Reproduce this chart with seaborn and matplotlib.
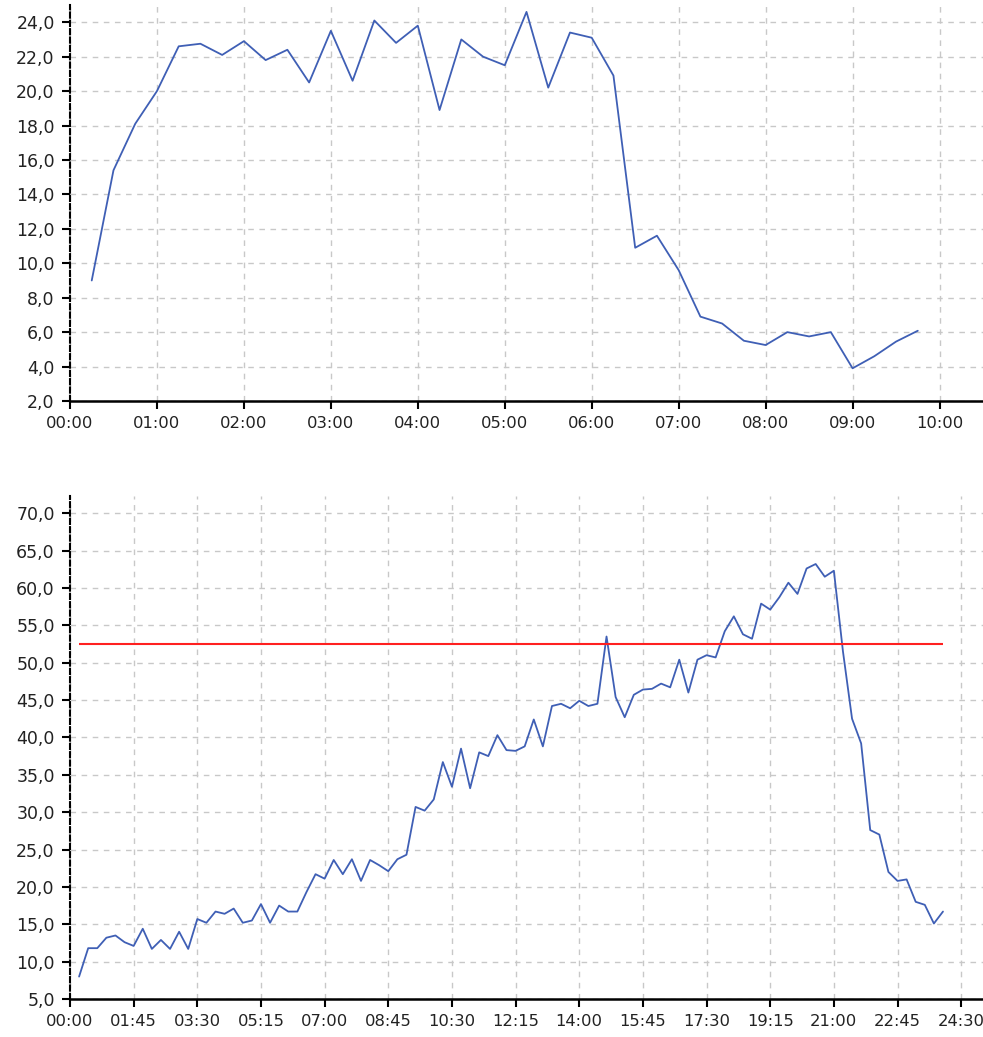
import matplotlib
matplotlib.use("Agg")
import matplotlib.pyplot as plt
import seaborn as sns
import numpy as np
import pandas as pd
from matplotlib.ticker import FuncFormatter

# ---------------- data ----------------
# top chart: 15-minute samples from 00:15 to 09:45 (hours)
top_hours = [0.25 * i for i in range(1, 40)]
top_values = [
    9.0, 15.4, 18.1, 20.0, 22.6, 22.75, 22.1, 22.9, 21.8, 22.4, 20.5, 23.5,
    20.6, 24.1, 22.8, 23.8, 18.9, 23.0, 22.0, 21.5, 24.6, 20.2, 23.4, 23.1,
    20.9, 10.9, 11.6, 9.6, 6.9, 6.5, 5.5, 5.25, 6.0, 5.75, 6.0, 3.9, 4.6,
    5.45, 6.08,
]
top_xticks = list(range(0, 11))
top_xlabels = ["00:00", "01:00", "02:00", "03:00", "04:00", "05:00",
               "06:00", "07:00", "08:00", "09:00", "10:00"]
top_yticks = [2, 4, 6, 8, 10, 12, 14, 16, 18, 20, 22, 24]

# bottom chart: 15-minute samples from 00:15 to 24:00 (hours)
bottom_hours = [0.25 * i for i in range(1, 97)]
bottom_values = [
    8.0, 11.8, 11.8, 13.2,
    13.5, 12.6, 12.1, 14.4,
    11.7, 12.9, 11.7, 14.0,
    11.7, 15.7, 15.2, 16.7,
    16.4, 17.1, 15.2, 15.5,
    17.7, 15.2, 17.5, 16.7,
    16.7, 19.3, 21.7, 21.1,
    23.6, 21.7, 23.7, 20.8,
    23.6, 22.9, 22.1, 23.7,
    24.3, 30.7, 30.2, 31.7,
    36.7, 33.4, 38.5, 33.2,
    38.0, 37.5, 40.3, 38.3,
    38.2, 38.8, 42.4, 38.8,
    44.2, 44.5, 43.9, 44.9,
    44.2, 44.5, 53.5, 45.4,
    42.7, 45.7, 46.4, 46.5,
    47.2, 46.7, 50.4, 46.0,
    50.4, 51.0, 50.7, 54.2,
    56.2, 53.8, 53.2, 57.9,
    57.1, 58.75, 60.7, 59.2,
    62.6, 63.2, 61.5, 62.3,
    51.5, 42.5, 39.2, 27.6,
    27.0, 22.0, 20.8, 21.0,
    18.0, 17.6, 15.1, 16.7,
]
threshold = 52.5
bottom_xticks = [1.75 * i for i in range(0, 15)]
bottom_xlabels = ["00:00", "01:45", "03:30", "05:15", "07:00", "08:45",
                  "10:30", "12:15", "14:00", "15:45", "17:30", "19:15",
                  "21:00", "22:45", "24:30"]
bottom_yticks = [5, 10, 15, 20, 25, 30, 35, 40, 45, 50, 55, 60, 65, 70]

# ---------------- style ----------------
sns.set_style("white")
plt.rcParams["font.family"] = ["DejaVu Sans"]

LINE_COLOR = "#3f5fb5"
GRID_KW = dict(color="#c8c8c8", linestyle=(0, (4, 4)), linewidth=1.0)
TEXT_COLOR = "#222222"

W, H = 983, 1037
fig = plt.figure(figsize=(W / 100, H / 100), dpi=100)

def px_axes(left, top, right, bottom):
    return fig.add_axes([left / W, 1 - bottom / H, (right - left) / W,
                         (bottom - top) / H])

ax1 = px_axes(70, 5, 983, 401)
ax2 = px_axes(70, 496, 983, 999)

comma_fmt = FuncFormatter(lambda v, p: f"{v:.1f}".replace(".", ","))

def style(ax, xticks, xlabels, yticks):
    ax.set_xticks(xticks)
    ax.set_xticklabels(xlabels)
    ax.set_yticks(yticks)
    ax.yaxis.set_major_formatter(comma_fmt)
    ax.grid(True, **GRID_KW)
    ax.set_axisbelow(True)
    for s in ("top", "right"):
        ax.spines[s].set_visible(False)
    ax.spines["left"].set_linestyle((0, (2.5, 1.5)))
    ax.spines["left"].set_linewidth(1.5)
    ax.spines["left"].set_color("black")
    ax.spines["bottom"].set_linewidth(1.8)
    ax.spines["bottom"].set_color("black")
    ax.tick_params(axis="both", which="major", direction="out", length=6,
                   width=1.5, color="black", labelcolor=TEXT_COLOR, pad=5,
                   bottom=True, left=True)
    ax.tick_params(axis="y", labelsize=12.5)
    ax.tick_params(axis="x", labelsize=11.8)
    ax.set_xlabel("")
    ax.set_ylabel("")

# top chart
df_top = pd.DataFrame({"hour": top_hours, "value": top_values})
sns.lineplot(data=df_top, x="hour", y="value", ax=ax1, color=LINE_COLOR,
             linewidth=1.3)
ax1.set_xlim(0, 10.5)
ax1.set_ylim(2, 25.0)
style(ax1, top_xticks, top_xlabels, top_yticks)

# bottom chart
df_bot = pd.DataFrame({"hour": bottom_hours, "value": bottom_values})
sns.lineplot(data=df_bot, x="hour", y="value", ax=ax2, color=LINE_COLOR,
             linewidth=1.3)
ax2.hlines(threshold, bottom_hours[0], bottom_hours[-1], color="#ff2020",
           linewidth=1.5, zorder=3)
ax2.set_xlim(0, 25.1)
ax2.set_ylim(5, 72.3)
style(ax2, bottom_xticks, bottom_xlabels, bottom_yticks)

fig.savefig("out.png", dpi=100, facecolor="white")
